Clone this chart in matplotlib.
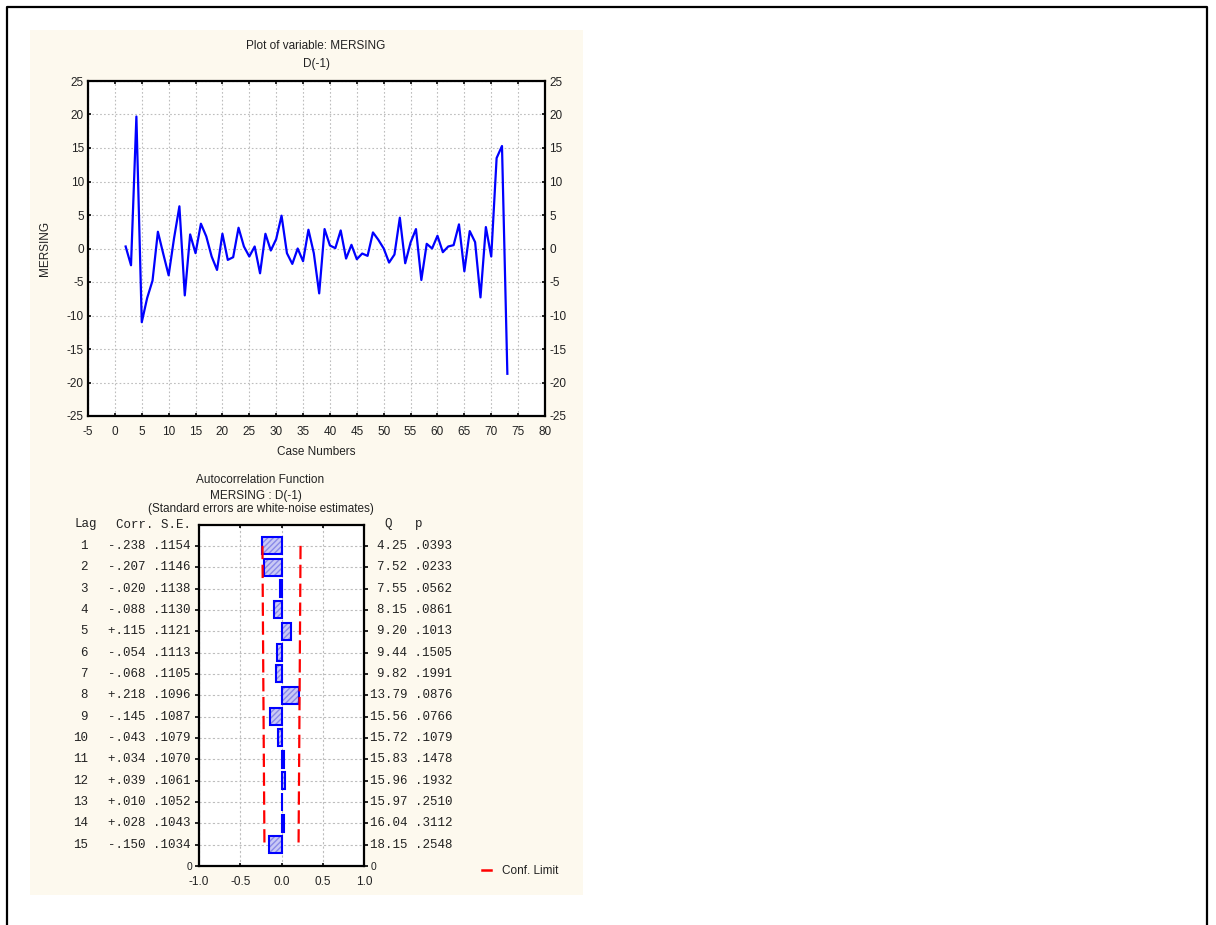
import matplotlib
matplotlib.use('Agg')
import matplotlib.pyplot as plt
import matplotlib.transforms as mtransforms
from matplotlib.patches import Rectangle
from matplotlib.lines import Line2D

plt.rcParams['font.family'] = ['Liberation Sans', 'DejaVu Sans']
plt.rcParams['axes.unicode_minus'] = False

# --- series: MERSING, first difference, cases 2..73
case_numbers = list(range(2, 74))
mersing_d1 = [
    0.3, -2.5, 19.7, -11.0, -7.4, -4.8, 2.5, -0.8, -4.0,          # 2-10
    1.5, 6.3, -7.0, 2.1, -0.7, 3.7, 1.8, -1.2, -3.2, 2.2,          # 11-20
    -1.7, -1.3, 3.1, 0.3, -1.2, 0.3, -3.7, 2.2, -0.3, 1.4,         # 21-30
    4.9, -0.7, -2.3, 0.0, -1.9, 2.8, -0.7, -6.7, 2.9, 0.45,        # 31-40
    0.05, 2.7, -1.5, 0.55, -1.6, -0.75, -1.1, 2.4, 1.3, 0.0,       # 41-50
    -2.1, -0.9, 4.6, -2.2, 0.9, 2.9, -4.7, 0.7, 0.0, 1.9,          # 51-60
    -0.55, 0.3, 0.5, 3.6, -3.4, 2.6, 0.95, -7.3, 3.2, -1.2,        # 61-70
    13.5, 15.3, -18.7,                                             # 71-73
]

# --- autocorrelation table
lags = list(range(1, 16))
acf_corr = [-0.238, -0.207, -0.020, -0.088, 0.115, -0.054, -0.068, 0.218,
            -0.145, -0.043, 0.034, 0.039, 0.010, 0.028, -0.150]
acf_se = [0.1154, 0.1146, 0.1138, 0.1130, 0.1121, 0.1113, 0.1105, 0.1096,
          0.1087, 0.1079, 0.1070, 0.1061, 0.1052, 0.1043, 0.1034]
box_q = [4.25, 7.52, 7.55, 8.15, 9.20, 9.44, 9.82, 13.79,
         15.56, 15.72, 15.83, 15.96, 15.97, 16.04, 18.15]
box_p = [0.0393, 0.0233, 0.0562, 0.0861, 0.1013, 0.1505, 0.1991, 0.0876,
         0.0766, 0.1079, 0.1478, 0.1932, 0.2510, 0.3112, 0.2548]
conf_limit = [2 * s for s in acf_se]

W, H = 1216, 925
fs = 8.5
mono = 'Liberation Mono'
txt_col = '#222222'


def fx(px):
    return px / W


def fy(py):
    return 1 - py / H


fig = plt.figure(figsize=(W / 100, H / 100), dpi=100)
fig.patch.set_facecolor('white')

# outer frame (left, top, right)
fig.add_artist(Line2D([fx(7), fx(7), fx(1207), fx(1207)],
                      [fy(930), fy(7), fy(7), fy(930)],
                      color='black', lw=1.6, transform=fig.transFigure))
# cream panel
fig.add_artist(Rectangle((fx(30), fy(895)), fx(583) - fx(30), fy(30) - fy(895),
                         transform=fig.transFigure, facecolor='#fdf9ee',
                         edgecolor='none', zorder=0))

# ---------------- top: line plot ----------------
ax1 = fig.add_axes([fx(88), fy(416), fx(545) - fx(88), fy(81) - fy(416)])
ax1.plot(case_numbers, mersing_d1, color='#0000ff', lw=1.6, zorder=3)
ax1.set_xlim(-5, 80)
ax1.set_ylim(-25, 25)
ax1.set_xticks(range(-5, 81, 5))
ax1.set_yticks(range(-25, 26, 5))
ax1.grid(True, color='#bdbdbd', linestyle=(0, (1.5, 2)), lw=0.8)
ax1.tick_params(axis='both', direction='in', length=2.5, width=1.2, labelsize=fs,
                labelcolor=txt_col, right=True, top=True, labelright=True)
ax1.tick_params(axis='x', pad=7)
ax1.tick_params(axis='y', pad=3)
for s in ax1.spines.values():
    s.set_linewidth(1.6)
ax1.set_xlabel('Case Numbers', fontsize=fs, color=txt_col, labelpad=6)
ax1.set_ylabel('MERSING', fontsize=fs, color=txt_col, labelpad=11)
fig.text(fx(316), fy(46), 'Plot of variable: MERSING', ha='center', va='center',
         fontsize=fs, color=txt_col)
fig.text(fx(316), fy(64), 'D(-1)', ha='center', va='center', fontsize=fs, color=txt_col)

# ---------------- bottom: autocorrelation ----------------
ax2 = fig.add_axes([fx(199), fy(866), fx(364) - fx(199), fy(524.5) - fy(866)])
ax2.barh(lags, acf_corr, height=0.8, color='#c9c9f5', edgecolor='#8a8ae8',
         hatch='//////', lw=0, zorder=2)
ax2.barh(lags, acf_corr, height=0.8, color='none', edgecolor='#0000ff',
         lw=1.5, zorder=3)
ax2.plot([-c for c in conf_limit], lags, color='#ff0000', lw=1.6,
         linestyle=(0, (6, 2.5)), zorder=4)
ax2.plot(conf_limit, lags, color='#ff0000', lw=1.6,
         linestyle=(0, (6, 2.5)), zorder=4)
ax2.set_xlim(-1.0, 1.0)
ax2.set_ylim(16, 0)
ax2.set_xticks([-1.0, -0.5, 0.0, 0.5, 1.0])
ax2.set_xticklabels(['-1.0', '-0.5', '0.0', '0.5', '1.0'])
ax2.set_yticks(list(lags) + [16])
ax2.set_yticklabels([''] * len(lags) + ['0'])
ax2.grid(True, color='#bdbdbd', linestyle=(0, (2, 2)), lw=0.8)
ax2.set_axisbelow(True)
ax2.tick_params(axis='x', direction='in', length=2.5, width=1.2, top=True,
                labelsize=fs, labelcolor=txt_col, pad=7)
ax2.tick_params(axis='y', direction='out', length=3, width=1.2, right=True,
                labelright=True, labelsize=fs - 1, labelcolor=txt_col, pad=2)
for s in ax2.spines.values():
    s.set_linewidth(1.6)

fig.text(fx(260), fy(480), 'Autocorrelation Function', ha='center', va='center',
         fontsize=fs, color=txt_col)
fig.text(fx(256), fy(496), 'MERSING : D(-1)', ha='center', va='center',
         fontsize=fs, color=txt_col)
fig.text(fx(261), fy(509), '(Standard errors are white-noise estimates)',
         ha='center', va='center', fontsize=fs, color=txt_col)

# table columns beside the ACF axes
row_tr = mtransforms.blended_transform_factory(fig.transFigure, ax2.transData)
mono_kw = dict(family=mono, fontsize=9, color=txt_col, va='center', transform=row_tr)
fig.text(fx(74), 0, 'Lag', ha='left', **mono_kw)
fig.text(fx(191), 0, 'Corr. S.E.', ha='right', **mono_kw)
fig.text(fx(370), 0, '  Q   p', ha='left', **mono_kw)


def fmt_corr(c):
    return ('-' if c < 0 else '+') + f'{abs(c):.3f}'[1:]


for lag, c, s, q, p in zip(lags, acf_corr, acf_se, box_q, box_p):
    fig.text(fx(88), lag, str(lag), ha='right', **mono_kw)
    fig.text(fx(191), lag, fmt_corr(c) + ' ' + f'{s:.4f}'[1:], ha='right', **mono_kw)
    fig.text(fx(452), lag, f'{q:.2f} ' + f'{p:.4f}'[1:], ha='right', **mono_kw)

# legend for the confidence limit
handle = Line2D([], [], color='#ff0000', lw=1.8, linestyle='-')
fig.legend(handles=[handle], labels=['Conf. Limit'], loc='center left',
           bbox_to_anchor=(fx(471), fy(871)), frameon=False, fontsize=fs,
           handlelength=0.8, handletextpad=0.9, labelcolor=txt_col)

fig.savefig('out.png', dpi=100)
